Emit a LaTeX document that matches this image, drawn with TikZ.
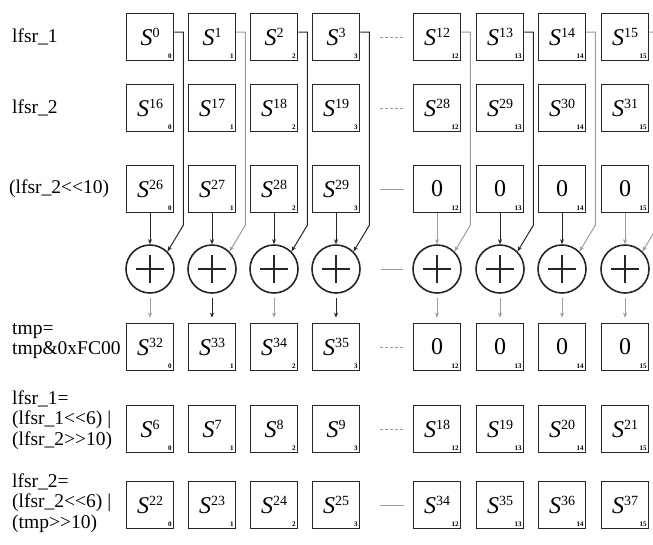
\documentclass[tikz,border=0pt]{standalone}
\usepackage{fontspec}
\setmainfont{Liberation Serif}
\usetikzlibrary{arrows.meta}
\definecolor{Ink}{HTML}{262626}
\definecolor{Pale}{HTML}{9C9C9C}
\newcommand{\sreg}[1]{\textit{S}\raisebox{0.36em}{\fontsize{14}{14}\selectfont #1}}

\begin{document}
\begin{tikzpicture}[x=1pt,y=-1pt,
  every node/.style={font=\fontsize{19.5}{20.5}\selectfont},
  reg/.style={draw=Ink,line width=1.7pt,minimum width=47pt,minimum height=47pt,inner sep=0pt,font=\fontsize{24}{26}\selectfont},
  idx/.style={anchor=south east,inner sep=2.5pt,font=\fontsize{7}{7}\selectfont\bfseries},
  xorop/.style={circle,draw=Ink,line width=1.6pt,minimum size=48pt,inner sep=0pt,
    path picture={\draw[line width=1.4pt,Ink] ([xshift=10pt]path picture bounding box.west) -- ([xshift=-10pt]path picture bounding box.east)
      ([yshift=-10pt]path picture bounding box.north) -- ([yshift=10pt]path picture bounding box.south);}},
  lbl/.style={anchor=west,align=left,inner sep=0pt},
  arrow/.style={-{Stealth[length=5pt,width=4pt]},line width=1pt},
  feed/.style={line width=1.2pt},
  gap/.style={line width=0.8pt,draw=Pale}
]
\useasboundingbox (0,0) rectangle (653,544);
\clip (0,0) rectangle (653,544);

% row labels
\node[lbl] (l1) at (12,37) {lfsr\_1};
\node[lbl] (l2) at (12,108) {lfsr\_2};
\node[lbl] (l3) at (9,189) {(lfsr\_2<{}<10)};
\node[lbl] (l4) at (12,341) {tmp=\\tmp\&0xFC00};
\node[lbl] (l5) at (12,420) {lfsr\_1=\\(lfsr\_1<{}<6) |\\(lfsr\_2>{}>10)};
\node[lbl] (l6) at (12,503) {lfsr\_2=\\(lfsr\_2<{}<6) |\\(tmp>{}>10)};

% one column per byte
\foreach \c/\x/\k/\fc/\ac/\bc in {1/150/0/Ink/Ink/Pale, 2/212/1/Pale/Ink/Ink, 3/274/2/Ink/Ink/Pale, 4/336/3/Ink/Ink/Ink,
    5/437/12/Pale/Pale/Pale, 6/500/13/Ink/Ink/Pale, 7/562/14/Pale/Ink/Pale, 8/625/15/Pale/Pale/Pale}{
  \pgfmathtruncatemacro{\kb}{\k+16}
  \pgfmathtruncatemacro{\kc}{\k+26}
  \pgfmathtruncatemacro{\kt}{\k+32}
  \pgfmathtruncatemacro{\kf}{\k+6}
  \pgfmathtruncatemacro{\kg}{\k+22}
  \node[reg] (r1-\c) at (\x,37) {\sreg{\k}};
  \node[reg] (r2-\c) at (\x,108) {\sreg{\kb}};
  \node[reg] (r3-\c) at (\x,189) {\ifnum\c<5 \sreg{\kc}\else 0\fi};
  \node[xorop] (x-\c) at (\x,269) {};
  \node[reg] (t-\c) at (\x,347) {\ifnum\c<5 \sreg{\kt}\else 0\fi};
  \node[reg] (r6-\c) at (\x,429) {\sreg{\kf}};
  \node[reg] (r7-\c) at (\x,505) {\sreg{\kg}};
  \foreach \r in {r1,r2,r3,t,r6,r7}
    \node[idx] (\r-i\c) at (\r-\c.south east) {\k};
  % feedback from lfsr_1 into the xor
  \coordinate (drop-\c) at ([yshift=19pt]x-\c.north);
  \draw[feed,arrow,draw=\fc] ([yshift=5pt]r1-\c.east) -- ++(9pt,0) coordinate (bend-\c)
    -- (bend-\c |- drop-\c) -- (x-\c.north east);
  \draw[arrow,draw=\ac] (r3-\c) -- (x-\c);
  \draw[arrow,draw=\bc,shorten <=4pt,shorten >=5pt] (x-\c) -- (t-\c);
}

% elided columns
\foreach \r/\s in {r1/densely dashed,r2/densely dashed,r3/solid,x/solid,t/densely dashed,r6/densely dashed,r7/solid}
  \draw[gap,\s] ([xshift=20pt]\r-4.east) -- ([xshift=-9pt]\r-5.west);
\end{tikzpicture}
\end{document}
